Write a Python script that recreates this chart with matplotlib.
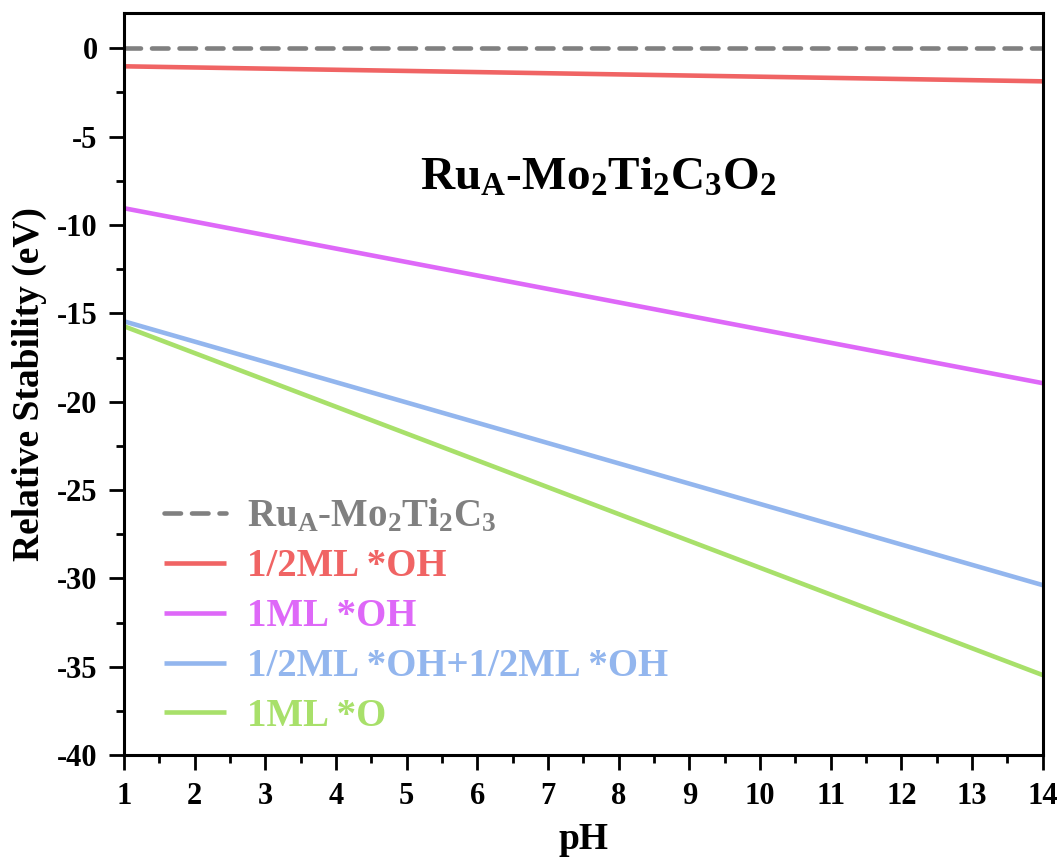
import numpy as np
import matplotlib.pyplot as plt
from matplotlib.ticker import MultipleLocator

# pH range and relative stability (eV) at each end
ph = [1, 14]
clean = [0.0, 0.0]
half_oh = [-1.02, -1.87]
full_oh = [-9.05, -18.95]
mixed_oh = [-15.45, -30.38]
full_o = [-15.73, -35.47]

labels = [r"Ru$_A$-Mo$_2$Ti$_2$C$_3$", "1/2ML *OH", "1ML *OH",
          "1/2ML *OH+1/2ML *OH", "1ML *O"]
colors = ["#808080", "#F06464", "#DE68F8", "#93B6EE", "#A8E06A"]

plt.rcParams['font.family'] = ['Liberation Serif', 'DejaVu Serif']
plt.rcParams['font.weight'] = 'bold'
plt.rcParams['mathtext.default'] = 'regular'
plt.rcParams['axes.unicode_minus'] = False

fig = plt.figure(figsize=(10.64, 8.63), dpi=100)
ax = fig.add_axes([0.1165, 0.125, 0.8635, 0.86])

series = [clean, half_oh, full_oh, mixed_oh, full_o]
for i, s in enumerate(series):
    if i == 0:
        ax.plot(ph, s, color=colors[i], lw=3.3, ls=(0, (3.6, 2.4)),
                dash_capstyle='round', label=labels[i])
    else:
        ax.plot(ph, s, color=colors[i], lw=3.3, solid_capstyle='butt',
                label=labels[i])

ax.set_xlim(1, 14)
ax.set_ylim(-40, 2)
ax.xaxis.set_major_locator(MultipleLocator(1))
ax.xaxis.set_minor_locator(MultipleLocator(0.5))
ax.yaxis.set_major_locator(MultipleLocator(5))
ax.yaxis.set_minor_locator(MultipleLocator(2.5))
ax.tick_params(which='major', direction='out', length=11, width=2,
               labelsize=22, pad=8)
ax.tick_params(which='minor', direction='out', length=6, width=2)
for sp in ax.spines.values():
    sp.set_linewidth(2.2)

ax.set_xlabel("pH", fontsize=27, fontweight='bold', labelpad=8)
ax.set_ylabel("Relative Stability (eV)", fontsize=27, fontweight='bold',
              labelpad=7)

ax.text(0.516, 0.777, r"Ru$_A$-Mo$_2$Ti$_2$C$_3$O$_2$", transform=ax.transAxes,
        ha='center', va='center', fontsize=34, fontweight='bold')

leg = ax.legend(loc='lower left', bbox_to_anchor=(0.005, -0.02), frameon=False,
                fontsize=28, handlelength=1.6, handletextpad=0.55,
                labelspacing=0.33, labelcolor='linecolor')

fig.savefig("out.png", dpi=100)
